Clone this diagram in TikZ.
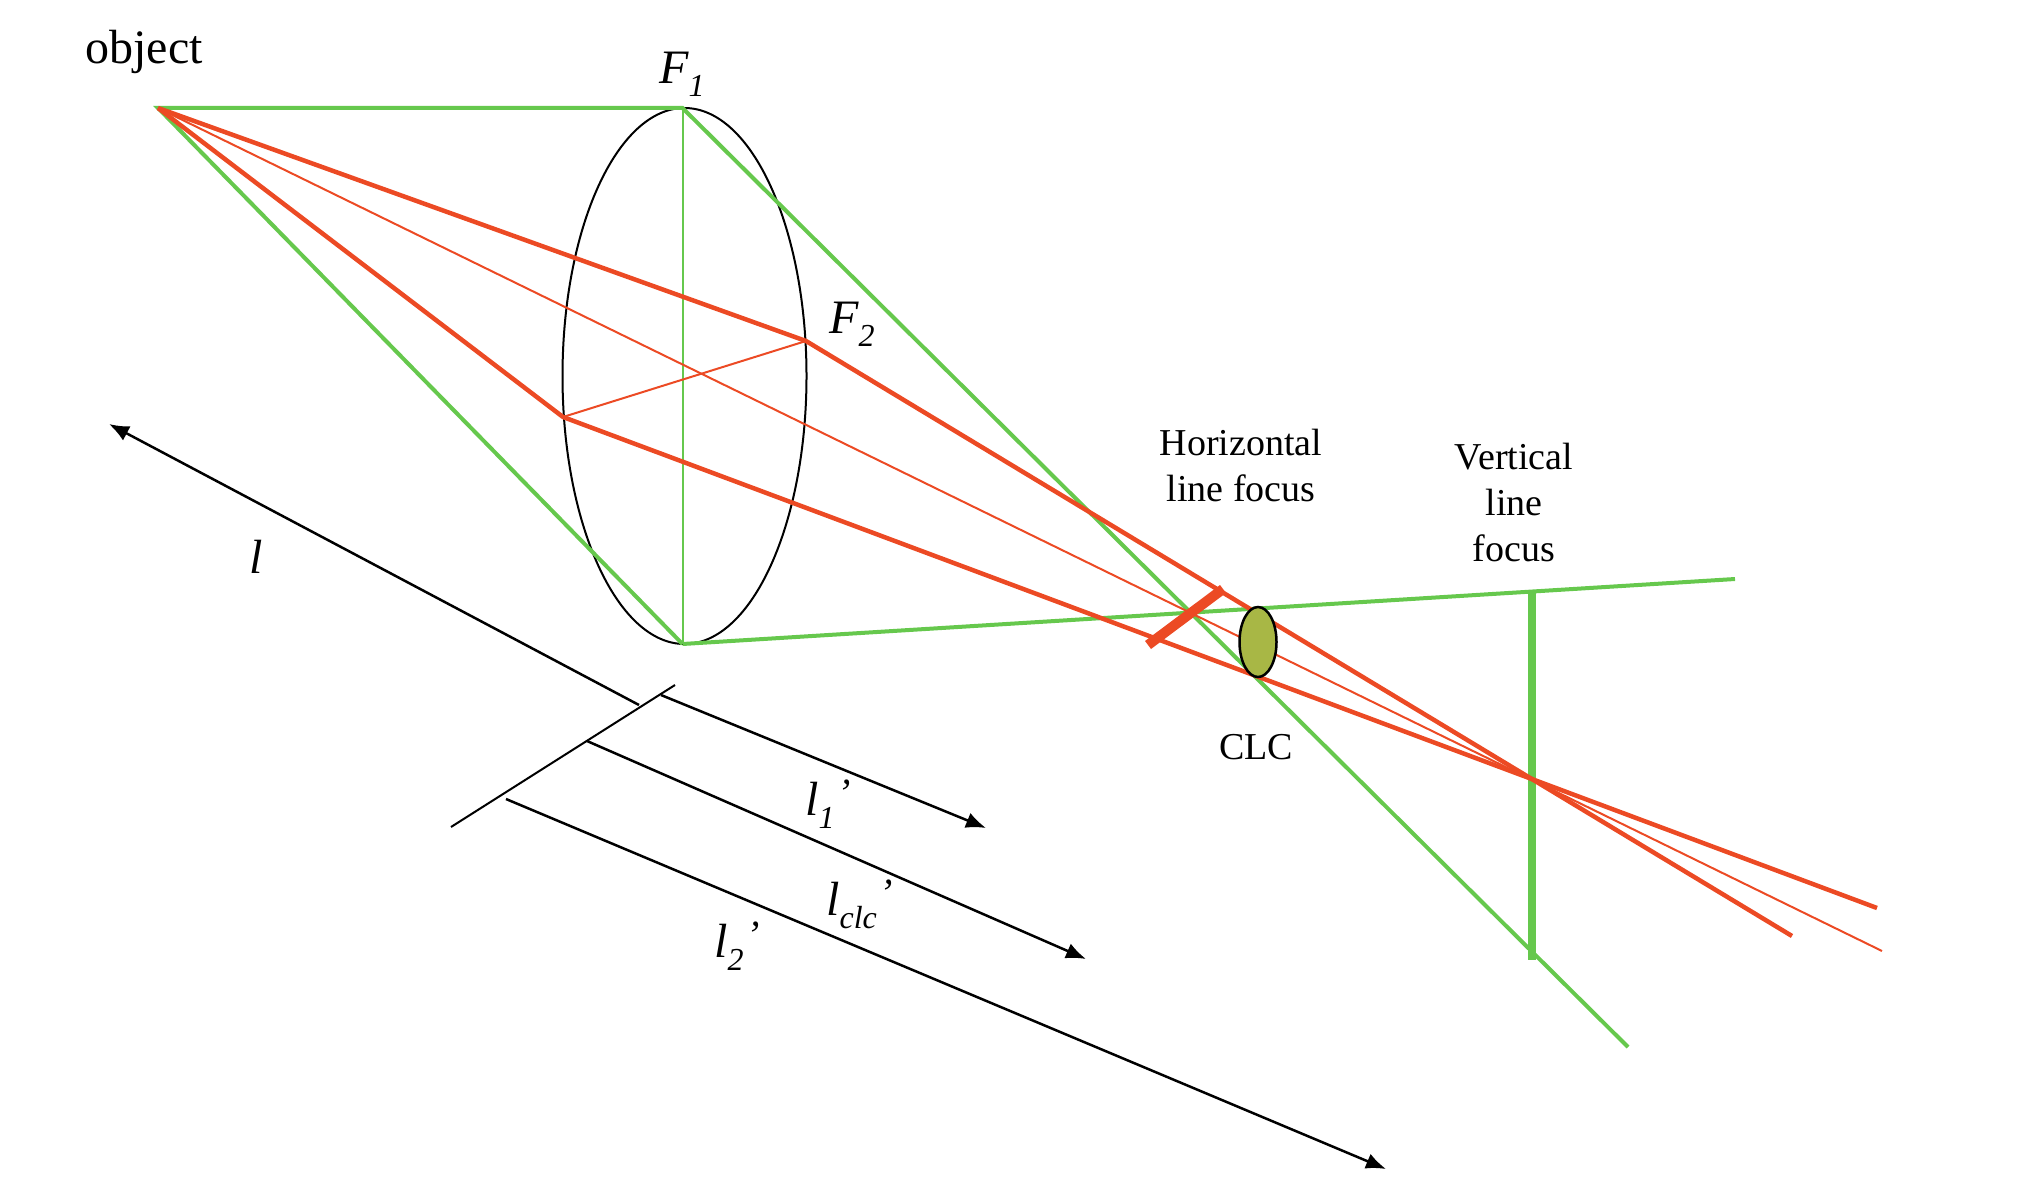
\documentclass[tikz,border=0pt]{standalone}
\usepackage{fontspec}
\setmainfont{Liberation Serif}
\usetikzlibrary{arrows.meta}
\usetikzlibrary{shapes.geometric}
\definecolor{raygreen}{RGB}{102,200,77}
\definecolor{rayred}{RGB}{236,74,36}
\definecolor{clcfill}{RGB}{168,183,69}
\newcommand{\lowsub}[1]{\raisebox{-13pt}{\fontsize{32}{32}\selectfont #1}}
\newcommand{\highmark}{\kern3pt\raisebox{9pt}{\fontsize{40}{40}\selectfont ’}}
\tikzstyle{greenray}=[draw=raygreen, line width=4pt]
\tikzstyle{greenthin}=[draw=raygreen, line width=2pt]
\tikzstyle{redray}=[draw=rayred, line width=4.5pt]
\tikzstyle{redthin}=[draw=rayred, line width=2pt]
\tikzstyle{lengtharrow}=[draw=black, line width=2.5pt, -{Latex[length=20pt,width=16pt]}]
\tikzstyle{maintext}=[inner sep=0, align=center, font=\fontsize{38}{46}\selectfont]
\tikzstyle{bigtext}=[inner sep=0, font=\fontsize{48}{48}\selectfont]
\tikzstyle{symbol}=[inner sep=0, anchor=base west, font=\fontsize{48}{48}\selectfont\itshape]
\tikzstyle{ellipsoid}=[draw=black, ellipse, inner sep=0, outer sep=0, line width=2pt]

\begin{document}
\begin{tikzpicture}[x=1pt, y=-1pt]
    \useasboundingbox (0, 0) rectangle (2044, 1180);
    % Rays.
    \coordinate (obj) at (158, 108);
    \coordinate (F1) at (682.5, 108);
    \coordinate (F2) at (806, 341);
    \coordinate (low) at (563, 417);
    \coordinate (bottom) at (682.5, 644);
    \coordinate (greenend) at (1628, 1047);
    \coordinate (greenright) at (1735, 579);
    \coordinate (vtop) at (1532, 592);
    \coordinate (vbottom) at (1532, 960);
    \coordinate (redupper) at (1877, 908);
    \coordinate (redlower) at (1792, 936);
    \coordinate (redthinend) at (1882, 951);
    \coordinate (htop) at (1223, 589);
    \coordinate (hbottom) at (1148, 645);
    % Length marks.
    \coordinate (ltip) at (109, 424);
    \coordinate (lstart) at (639, 705);
    \coordinate (ticktop) at (675, 685);
    \coordinate (tickbottom) at (451, 827);
    \coordinate (lonestart) at (661, 695);
    \coordinate (lonetip) at (986, 828);
    \coordinate (lclcstart) at (587, 741);
    \coordinate (lclctip) at (1086, 959);
    \coordinate (ltwostart) at (506, 799);
    \coordinate (ltwotip) at (1386, 1169);

    \node[ellipsoid, minimum width=244, minimum height=536] (lens) at (684.5, 376) {};
    \draw[greenray] (bottom) -- (obj) -- (F1) -- (greenend);
    \draw[greenray] (bottom) -- (greenright);
    \draw[greenthin] (F1) -- (bottom);
    \draw[line width=8pt, draw=raygreen] (vtop) -- (vbottom);
    \draw[redray] (obj) -- (F2) -- (redlower);
    \draw[redray] (obj) -- (low) -- (redupper);
    \draw[redthin] (obj) -- (redthinend);
    \draw[redthin] (low) -- (F2);
    \draw[line width=10pt, draw=rayred] (htop) -- (hbottom);
    \node[ellipsoid, fill=clcfill, line width=2.5pt, minimum width=37, minimum height=70] (clc) at (1258, 642) {};

    \draw[lengtharrow] (lstart) -- (ltip);
    \draw[draw=black, line width=2pt] (ticktop) -- (tickbottom);
    \draw[lengtharrow] (lonestart) -- (lonetip);
    \draw[lengtharrow] (lclcstart) -- (lclctip);
    \draw[lengtharrow] (ltwostart) -- (ltwotip);

    \node[bigtext] (objectlabel) at (144, 52) {object};
    \node[symbol] (F1label) at (659, 84) {F\lowsub{1}};
    \node[symbol] (F2label) at (829, 333) {F\lowsub{2}};
    \node[symbol] (llabel) at (249, 573) {l};
    \node[symbol] (l1label) at (805, 815) {l\lowsub{1}\highmark};
    \node[symbol] (lclclabel) at (826, 915) {l\lowsub{clc}\highmark};
    \node[symbol] (l2label) at (714, 957) {l\lowsub{2}\highmark};
    \node[maintext] (hlabel) at (1241, 465) {Horizontal\\line focus};
    \node[maintext] (vlabel) at (1514, 502) {Vertical\\line\\focus};
    \node[maintext] (clclabel) at (1256, 747) {CLC};
\end{tikzpicture}
\end{document}
